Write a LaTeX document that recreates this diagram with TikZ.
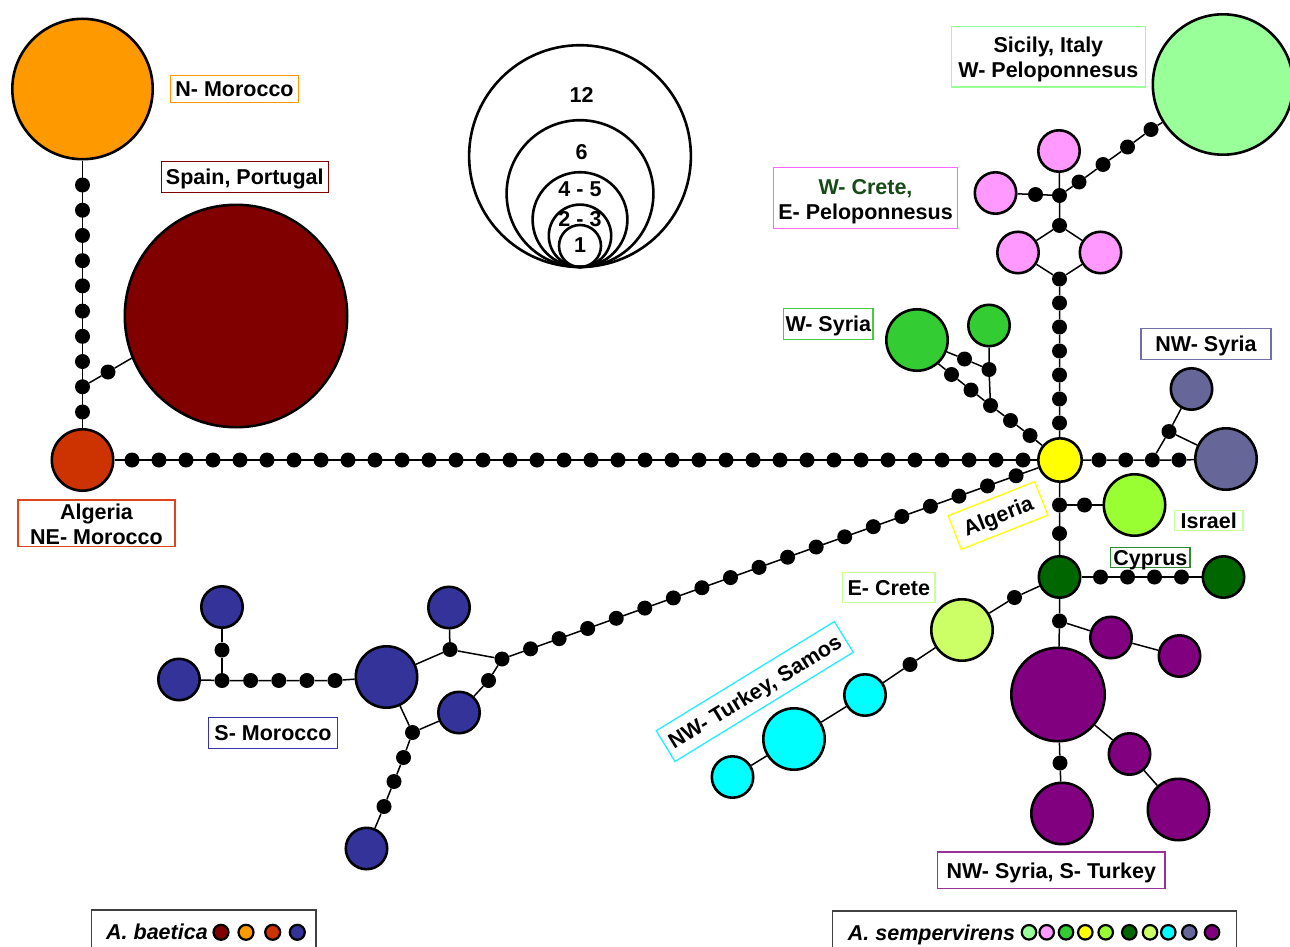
\documentclass[tikz,border=0pt]{standalone}
\usepackage{fontspec}
\setmainfont{Liberation Sans}
\newcommand{\labfont}{\fontsize{21.5pt}{25pt}\selectfont\bfseries}

% haplotype colours
\definecolor{cNMor}{HTML}{FF9900}
\definecolor{cSpa}{HTML}{800000}
\definecolor{cAlg}{HTML}{CC3300}
\definecolor{cSMor}{HTML}{333399}
\definecolor{cSic}{HTML}{99FF99}
\definecolor{cPel}{HTML}{FF99FF}
\definecolor{cWSy}{HTML}{33CC33}
\definecolor{cYel}{HTML}{FFFF00}
\definecolor{cIsr}{HTML}{99FF33}
\definecolor{cCyp}{HTML}{006600}
\definecolor{cECr}{HTML}{CCFF66}
\definecolor{cCya}{HTML}{00FFFF}
\definecolor{cNWS}{HTML}{666699}
\definecolor{cPur}{HTML}{800080}
% label frame colours
\definecolor{bAlg}{HTML}{E0441A}
\definecolor{bSMor}{HTML}{3333AA}
\definecolor{bPel}{HTML}{FF66FF}
\definecolor{bWSy}{HTML}{44CC44}
\definecolor{bNWS}{HTML}{7070A8}
\definecolor{bLight}{HTML}{C8FF99}
\definecolor{bCyp}{HTML}{338833}
\definecolor{bCya}{HTML}{22EEFF}
\definecolor{bPur}{HTML}{993399}
\definecolor{tWCr}{HTML}{164A16}
\definecolor{legGray}{HTML}{404040}

\begin{document}
\begin{tikzpicture}[x=1pt,y=-1pt,
  edge/.style={line width=1.5pt},
  dot/.style={circle,fill=black,inner sep=0pt,minimum size=15pt},
  hap/.style={circle,draw=black,line width=2.6pt,inner sep=0pt,fill=#1},
  sz1/.style={minimum size=41.4pt},
  sz2/.style={minimum size=61.4pt},
  sz4/.style={minimum size=93.4pt},
  sz6/.style={minimum size=140.4pt},
  sz12/.style={minimum size=222.4pt},
  lab/.style={draw=#1,line width=1.3pt,inner sep=0pt,font=\labfont,
              text height=15.4pt,text depth=0pt},
  frame/.style={draw=#1,line width=1.3pt,inner sep=0pt},
  twoline/.style={inner sep=0pt,font=\labfont,align=center},
  numtext/.style={inner sep=0pt,font=\labfont,text height=15.4pt,text depth=0pt},
  keyring/.style={circle,draw=black,line width=2.6pt,inner sep=0pt,minimum size=#1},
  legdot/.style={circle,draw=black,line width=2.2pt,inner sep=0pt,minimum size=14.5pt,fill=#1},
  legbox/.style={draw=legGray,line width=1.3pt,inner sep=0pt},
  legtext/.style={inner sep=0pt,anchor=base west,
                  font=\fontsize{21.5pt}{25pt}\selectfont\bfseries\itshape}
]
\fill[white] (0,0) rectangle (1290,947);
\clip (0,0) rectangle (1290,947);

% ---------------- size key ----------------
\foreach \nm/\p in {k12/110.9,k6/73.4,k45/47.4,k23/31.2,k1/21}
  \node[keyring=2*\p pt] (\nm) at (580,{267-\p}) {};
\node[numtext] (t12) at (581.5,95) {12};
\node[numtext] (t6)  at (581.5,151.5) {6};
\node[numtext] (t45) at (580,188.5) {4 - 5};
\node[numtext] (t23) at (580,218.5) {2 - 3};
\node[numtext] (t1)  at (580,245) {1};

% ---------------- western haplotypes ----------------
\node[hap=cNMor,sz6] (nmor) at (82.5,89) {};
\node[hap=cSpa,sz12] (spa) at (236,316) {};
\node[hap=cAlg,sz2] (alg) at (82.5,460) {};
\foreach \i in {1,...,10}
  \node[dot] (v\i) at (82.5,{185+25.22*(\i-1)}) {};
\node[dot] (vs) at (108,372) {};
\draw[edge] (nmor) \foreach \i in {1,...,10}{ -- (v\i)} -- (alg);
\draw[edge] (v9) -- (vs) -- (spa.202);

% long chain to the central haplotype
\node[hap=cYel,minimum size=43.4pt] (yel) at (1060,460) {};
\foreach \i in {0,...,33}
  \node[dot] (h\i) at ({132+27*\i},460) {};
\draw[edge] (alg) \foreach \i in {0,...,33}{ -- (h\i)} -- (yel);

% chain from S-Morocco junction to the central haplotype
\node[dot] (j0) at (502,659) {};
\foreach \i in {1,...,18}
  \node[dot] (k\i) at ({502+28.56*\i},{659-10.18*\i}) {};
\draw[edge] (j0) \foreach \i in {1,...,18}{ -- (k\i)} -- (yel);

% ---------------- S-Morocco group ----------------
\node[hap=cSMor,sz1] (sm1) at (222,607) {};
\node[hap=cSMor,sz1] (sm2) at (179,679.5) {};
\node[dot] (sd1) at (222,650) {};
\node[dot] (sd0) at (222,680.5) {};
\foreach \i/\x in {2/250.6,3/278.8,4/306.9,5/335}
  \node[dot] (sd\i) at (\x,680.5) {};
\node[hap=cSMor,sz2] (smb) at (386.5,677) {};
\node[hap=cSMor,sz1] (sm3) at (449,607.5) {};
\node[dot] (sd6) at (450,649.5) {};
\node[dot] (sd7) at (488.5,680.5) {};
\node[hap=cSMor,sz1] (sm4) at (459,712.5) {};
\node[dot] (sd8) at (412.5,732.5) {};
\node[dot] (sd9) at (403.5,757.5) {};
\node[dot] (sd10) at (394,781.5) {};
\node[dot] (sd11) at (384,806.5) {};
\node[hap=cSMor,sz1] (sm5) at (366.5,848.5) {};
\draw[edge] (sm1) -- (sd1) -- (sd0);
\draw[edge] (sm2) -- (sd0) -- (sd2) -- (sd3) -- (sd4) -- (sd5) -- (smb);
\draw[edge] (smb) -- (sd6) -- (sm3);
\draw[edge] (sd6) -- (j0) -- (sd7) -- (sm4);
\draw[edge] (smb) -- (sd8) -- (sm4);
\draw[edge] (sd8) -- (sd9) -- (sd10) -- (sd11) -- (sm5);

% ---------------- W-Syria group ----------------
\node[hap=cWSy,sz2] (wsb) at (917,340) {};
\node[hap=cWSy,sz1] (wss) at (989,325.5) {};
\node[dot] (wa) at (964.5,359) {};
\node[dot] (wb) at (989,369.5) {};
\node[dot] (wc1) at (951.5,374.5) {};
\node[dot] (wc2) at (971,390) {};
\node[dot] (wd) at (990.5,405.5) {};
\node[dot] (we) at (1010.5,420.5) {};
\node[dot] (wf) at (1030,435.5) {};
\draw[edge] (wsb) -- (wa) -- (wb) -- (wss);
\draw[edge] (wb) -- (wd);
\draw[edge] (wsb.-48) -- (wc1) -- (wc2) -- (wd) -- (we) -- (wf) -- (yel);

% ---------------- Peloponnesus / Crete / Sicily ----------------
\foreach \i/\y in {1/423,2/399,3/375,4/351,5/327,6/303}
  \node[dot] (u\i) at (1059.5,\y) {};
\node[dot] (db) at (1059.5,279) {};
\draw[edge] (yel) -- (u1) -- (u2) -- (u3) -- (u4) -- (u5) -- (u6) -- (db);
\node[hap=cPel,sz1] (pl) at (1018,252.5) {};
\node[hap=cPel,sz1] (pr) at (1100.5,252.5) {};
\node[dot] (dt) at (1059.5,225.5) {};
\draw[edge] (db) -- (pl) -- (dt) -- (pr) -- (db);
\node[dot] (pj) at (1059.5,195.5) {};
\node[hap=cPel,sz1] (ptop) at (1059,151) {};
\node[dot] (pd) at (1035.5,194.5) {};
\node[hap=cPel,sz1] (plft) at (995.5,193) {};
\draw[edge] (dt) -- (pj) -- (ptop);
\draw[edge] (pj) -- (pd) -- (plft);
\node[hap=cSic,sz6] (sic) at (1223,84.5) {};
\node[dot] (g1) at (1079,182) {};
\node[dot] (g2) at (1103,164.5) {};
\node[dot] (g3) at (1127.5,147) {};
\node[dot] (g4) at (1151,129.5) {};
\draw[edge] (pj) -- (g1) -- (g2) -- (g3) -- (g4) -- (sic.212);

% ---------------- NW-Syria group ----------------
\foreach \i/\x in {1/1099,2/1125.7,3/1152.3,4/1179}
  \node[dot] (r\i) at (\x,460) {};
\node[hap=cNWS,sz2] (nwb) at (1226,459) {};
\node[hap=cNWS,sz1] (nws) at (1191.5,389) {};
\node[dot] (nwj) at (1169,431.5) {};
\draw[edge] (yel) -- (r1) -- (r2) -- (r3) -- (r4) -- (nwb);
\draw[edge] (r3) -- (nwj) -- (nws);
\draw[edge] (nwj) -- (nwb);

% ---------------- Israel / Cyprus ----------------
\node[dot] (ia) at (1059.5,505) {};
\node[dot] (ib) at (1084.5,505) {};
\node[hap=cIsr,sz2] (isr) at (1134.5,505) {};
\node[dot] (ic) at (1059.5,533.5) {};
\node[hap=cCyp,sz1] (cyp) at (1059.5,577) {};
\foreach \i/\x in {1/1100.5,2/1127.5,3/1154.5,4/1181.5}
  \node[dot] (c\i) at (\x,577) {};
\node[hap=cCyp,sz1] (cyp2) at (1223.5,577) {};
\draw[edge] (yel) -- (ia) -- (ic) -- (cyp);
\draw[edge] (ia) -- (ib) -- (isr);
\draw[edge] (cyp) -- (c1) -- (c2) -- (c3) -- (c4) -- (cyp2);

% ---------------- E-Crete / NW-Turkey ----------------
\node[dot] (ec1) at (1014.5,597.5) {};
\node[hap=cECr,sz2] (ecr) at (962,630) {};
\node[dot] (ec2) at (910,664.5) {};
\node[hap=cCya,sz1] (cy1) at (865,695) {};
\node[hap=cCya,sz2] (cy2) at (794,739) {};
\node[hap=cCya,sz1] (cy3) at (732.5,777) {};
\draw[edge] (cyp) -- (ec1) -- (ecr) -- (ec2) -- (cy1) -- (cy2) -- (cy3);

% ---------------- NW-Syria / S-Turkey group ----------------
\node[dot] (pd1) at (1059.5,621) {};
\node[hap=cPur,sz4] (pbig) at (1058,694.5) {};
\node[hap=cPur,sz1] (pu1) at (1111,637.5) {};
\node[hap=cPur,sz1] (pu2) at (1179.5,656) {};
\node[hap=cPur,sz1] (pu3) at (1129.5,754) {};
\node[hap=cPur,sz2] (pu4) at (1178.5,809.5) {};
\node[dot] (pd2) at (1060,763) {};
\node[hap=cPur,sz2] (pu5) at (1062,813.5) {};
\draw[edge] (cyp) -- (pd1) -- (pbig);
\draw[edge] (pd1) -- (pu1) -- (pu2);
\draw[edge] (pbig) -- (pu3) -- (pu4);
\draw[edge] (pbig) -- (pd2) -- (pu5);

% ---------------- labels ----------------
\node[lab=cNMor,minimum width=127.6pt,minimum height=26.6pt] (lNMor) at (234.5,89) {N- Morocco};
\node[lab=cSpa,minimum width=167pt,minimum height=30.6pt] (lSpa) at (244.8,177) {Spain, Portugal};
\node[frame=bAlg,minimum width=157pt,minimum height=46.5pt] (fAlg) at (96.5,523.2) {};
\node[twoline] (lAlg) at (96.5,524) {Algeria\\NE- Morocco};
\node[lab=bSMor,minimum width=129.4pt,minimum height=30.7pt] (lSMor) at (273,732.8) {S- Morocco};
\node[frame=cSic,minimum width=194.3pt,minimum height=60.7pt] (fSic) at (1048.4,56.7) {};
\node[twoline] (lSic) at (1048.4,59.9) {Sicily, Italy\\W- Peloponnesus};
\node[frame=bPel,minimum width=184pt,minimum height=61pt] (fPel) at (865.5,198.2) {};
\node[twoline] (lPel) at (865.5,201.5) {\textcolor{tWCr}{W- Crete,}\\E- Peloponnesus};
\node[lab=bWSy,minimum width=89.4pt,minimum height=31.3pt] (lWSy) at (828.3,324) {W- Syria};
\node[lab=bNWS,minimum width=130pt,minimum height=31.3pt] (lNWS) at (1206,344) {NW- Syria};
\node[lab=cYel,minimum width=93pt,minimum height=36pt,rotate=21.5] (lAlgE) at (998,515.5) {Algeria};
\node[lab=bLight,minimum width=68.5pt,minimum height=20pt] (lIsr) at (1208.7,520.3) {Israel};
\node[lab=bCyp,minimum width=79.5pt,minimum height=20.6pt] (lCyp) at (1150.3,557.5) {Cyprus};
\node[lab=bLight,minimum width=92.5pt,minimum height=30pt] (lECr) at (888.8,587.3) {E- Crete};
\node[lab=bCya,minimum width=209pt,minimum height=36pt,rotate=31.5] (lNWT) at (754.7,691.5) {NW- Turkey, Samos};
\node[lab=bPur,minimum width=227.5pt,minimum height=36.6pt] (lNWSS) at (1051.3,870.3) {NW- Syria, S- Turkey};

% ---------------- species keys ----------------
\node[legbox,minimum width=224.3pt,minimum height=60pt] (keyA) at (203.85,940) {};
\node[legtext] (keyAt) at (106,939.5) {A. baetica};
\foreach \nm/\x/\c in {a1/221/cSpa,a2/246/cNMor,a3/272.7/cAlg,a4/297.3/cSMor}
  \node[legdot=\c,minimum size=15pt] (\nm) at (\x,932.3) {};
\node[legbox,minimum width=404pt,minimum height=60pt] (keyS) at (1034.3,941) {};
\node[legtext] (keySt) at (847.7,940) {A. sempervirens};
\foreach \nm/\x/\c in {b1/1029/cSic,b2/1046.7/cPel,b3/1066/cWSy,b4/1085.3/cYel,b5/1105.7/cIsr,
                       b6/1129.3/cCyp,b7/1150/cECr,b8/1168.3/cCya,b9/1189.3/cNWS,b10/1212/cPur}
  \node[legdot=\c] (\nm) at (\x,932.3) {};
\end{tikzpicture}
\end{document}
